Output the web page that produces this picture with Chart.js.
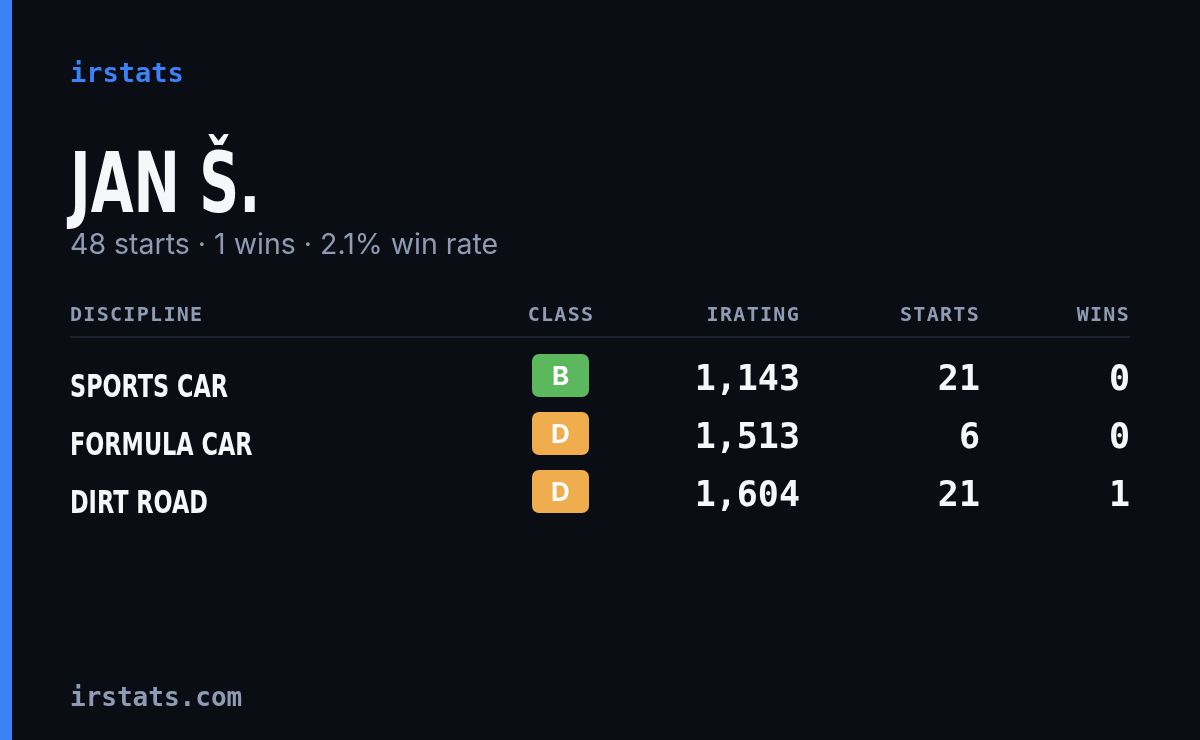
<!DOCTYPE html>
<html><head><meta charset="utf-8">
<script src="https://cdn.jsdelivr.net/npm/chart.js@4"></script>
<style>
html,body{margin:0;padding:0;background:#0a0d14;}
#wrap{position:relative;width:1200px;height:740px;}
</style></head><body>
<div id="wrap"><canvas id="c" width="1200" height="740"></canvas></div>
<script>
const disciplines = ["SPORTS CAR","FORMULA CAR","DIRT ROAD"];
const classes = ["B","D","D"];
const iratings = [1143,1513,1604];
const starts = [21,6,21];
const wins = [0,0,1];
const headers = ["DISCIPLINE","CLASS","IRATING","STARTS","WINS"];
const classColors = {B:"#5cb85c", D:"#f0ad4e"};
const totStarts = starts.reduce((a,b)=>a+b,0);
const totWins = wins.reduce((a,b)=>a+b,0);

function rr(ctx,x,y,w,h,r){ctx.beginPath();ctx.moveTo(x+r,y);ctx.arcTo(x+w,y,x+w,y+h,r);ctx.arcTo(x+w,y+h,x,y+h,r);ctx.arcTo(x,y+h,x,y,r);ctx.arcTo(x,y,x+w,y,r);ctx.closePath();}
function narrow(ctx,text,x,y,sx){ctx.save();ctx.translate(x,y);ctx.scale(sx,1);ctx.textAlign="left";ctx.fillText(text,0,0);ctx.restore();}

const card = {
  id:'card',
  beforeDraw(chart){
    const ctx=chart.ctx;
    ctx.save();
    ctx.fillStyle="#0a0d14";ctx.fillRect(0,0,1200,740);
    ctx.fillStyle="#3b82f6";ctx.fillRect(0,0,12,740);
    ctx.textBaseline="alphabetic";
    ctx.fillStyle="#3b82f6";ctx.font="bold 27px 'DejaVu Sans Mono'";ctx.textAlign="left";
    ctx.fillText("irstats",70,82);
    ctx.fillStyle="#f5f7fb";ctx.font="bold 84px 'DejaVu Sans'";
    narrow(ctx,"JAN Š.",70,212,0.66);
    ctx.fillStyle="#8f9bb3";ctx.font="28.5px Inter,'Noto Sans'";
    ctx.fillText(totStarts+" starts · "+totWins+" wins · "+(totWins/totStarts*100).toFixed(1)+"% win rate",70,254);
    ctx.font="bold 20px 'DejaVu Sans Mono'";ctx.fillStyle="#8f9bb3";
    ctx.letterSpacing="1.3px";
    const hx=[[70,"left"],[561,"center"],[800,"right"],[980,"right"],[1130,"right"]];
    headers.forEach((h,i)=>{ctx.textAlign=hx[i][1];ctx.fillText(h,hx[i][0],321);});
    ctx.letterSpacing="0px";
    ctx.fillStyle="#1c2230";ctx.fillRect(70,336,1060,2);
    ctx.textAlign="left";ctx.fillStyle="#8f9bb3";ctx.font="bold 26px 'DejaVu Sans Mono'";
    ctx.fillText("irstats.com",70,706);
    const ys=chart.scales.y;
    disciplines.forEach((d,i)=>{
      const y=ys.getPixelForValue(i);
      ctx.fillStyle="#f5f7fb";
      ctx.font="bold 32px 'DejaVu Sans'";
      narrow(ctx,d,70,y+20,0.70);
      ctx.fillStyle=classColors[classes[i]];rr(ctx,532,y-23,57,43,7);ctx.fill();
      ctx.fillStyle="#ffffff";ctx.textAlign="center";ctx.font="bold 26px Inter,'Noto Sans'";
      ctx.fillText(classes[i],560.5,y+8);
      ctx.font="bold 35px 'DejaVu Sans Mono'";ctx.textAlign="right";ctx.fillStyle="#f5f7fb";
      ctx.fillText(iratings[i].toLocaleString('en-US'),800,y+13);
      ctx.fillText(String(starts[i]),980,y+13);
      ctx.fillText(String(wins[i]),1130,y+13);
    });
    ctx.restore();
  }
};
new Chart(document.getElementById('c'),{
  type:'bar',
  data:{labels:disciplines,datasets:[{data:iratings,backgroundColor:'rgba(0,0,0,0)'}]},
  options:{indexAxis:'y',responsive:false,animation:false,devicePixelRatio:1,
    layout:{padding:{top:348,bottom:218,left:0,right:0}},
    plugins:{legend:{display:false},tooltip:{enabled:false}},
    scales:{x:{display:false,min:0},y:{display:false,offset:true}}},
  plugins:[card]
});
</script></body></html>
